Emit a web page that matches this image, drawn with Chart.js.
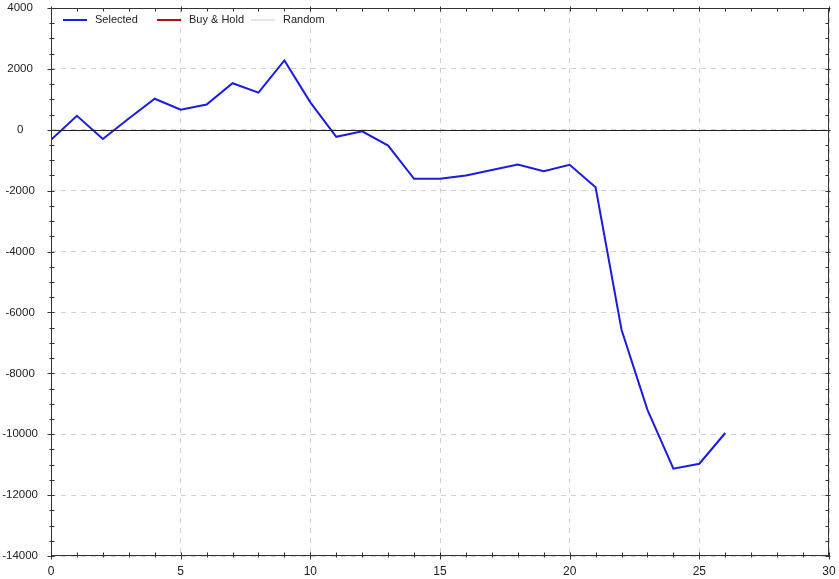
<!DOCTYPE html>
<html>
<head>
<meta charset="utf-8">
<script src="https://cdn.jsdelivr.net/npm/chart.js@4/dist/chart.umd.min.js"></script>
<style>
html,body{margin:0;padding:0;background:#fff;}
#wrap{width:839px;height:579px;position:relative;}
</style>
</head>
<body>
<div id="wrap"><canvas id="c" width="839" height="579"></canvas></div>
<script>
const periods = [0,1,2,3,4,5,6,7,8,9,10,11,12,13,14,15,16,17,18,19,20,21,22,23,24,25,26];
const selectedValues = [-330,460,-300,370,1020,660,830,1530,1220,2280,900,-230,-50,-520,-1610,-1610,-1500,-1320,-1140,-1360,-1150,-1890,-6570,-9200,-11130,-10970,-9960];
const buyHoldValues = [];
const randomValues = [];
const seriesNames = ['Selected','Buy & Hold','Random'];
const yTickValues = [4000,2000,0,-2000,-4000,-6000,-8000,-10000,-12000,-14000];
const xTickValues = [0,5,10,15,20,25,30];

const FONT = 'Liberation Sans, Arial, sans-serif';

const framePlugin = {
  id: 'frame',
  afterDatasetsDraw(chart) {
    const ctx = chart.ctx, a = chart.chartArea;
    const ys = chart.scales.y;
    ctx.save();
    const y0 = Math.round(ys.getPixelForValue(0)) + 0.5;
    ctx.strokeStyle = '#222';
    ctx.lineWidth = 1;
    ctx.beginPath(); ctx.moveTo(a.left, y0); ctx.lineTo(a.right, y0); ctx.stroke();
    ctx.restore();
  },
  afterDraw(chart) {
    const ctx = chart.ctx, a = chart.chartArea;
    const xs = chart.scales.x, ys = chart.scales.y;
    ctx.save();
    ctx.strokeStyle = '#333';
    ctx.lineWidth = 1;
    const L = Math.round(a.left) + 0.5, R = Math.round(a.right) - 0.5;
    const T = Math.round(a.top) + 0.5, B = Math.round(a.bottom) - 0.5;
    ctx.strokeRect(L, T, R - L, B - T);
    ctx.beginPath();
    for (let v = xs.min; v <= xs.max; v += 1) {
      const px = Math.round(xs.getPixelForValue(v)) + 0.5;
      const major = v % 5 === 0;
      const o = major ? 4 : 2, i = 3;
      ctx.moveTo(px, B + o); ctx.lineTo(px, B - i);
      ctx.moveTo(px, T - (major ? 2 : 0)); ctx.lineTo(px, T + i);
    }
    for (let v = ys.min; v <= ys.max; v += 500) {
      const py = Math.round(ys.getPixelForValue(v)) + 0.5;
      const major = v % 2000 === 0;
      const o = major ? 4 : 2, i = 3;
      ctx.moveTo(L - o, py); ctx.lineTo(L + i, py);
      ctx.moveTo(R + (major ? 2 : 0), py); ctx.lineTo(R - i, py);
    }
    ctx.stroke();

    ctx.font = '11px ' + FONT;
    ctx.textBaseline = 'middle';
    ctx.textAlign = 'left';
    let x = a.left + 12;
    const y = a.top + 12;
    chart.data.datasets.forEach((ds) => {
      ctx.strokeStyle = ds.borderColor;
      ctx.lineWidth = 2;
      ctx.beginPath(); ctx.moveTo(x, y); ctx.lineTo(x + 24, y); ctx.stroke();
      ctx.fillStyle = '#222';
      ctx.fillText(ds.label, x + 32, y);
      x += 94;
    });
    ctx.restore();
  }
};

new Chart(document.getElementById('c'), {
  type: 'line',
  data: {
    datasets: [
      { label: seriesNames[0], data: periods.map((p, i) => ({x: p, y: selectedValues[i]})), borderColor: '#1c1ce0', borderWidth: 2, pointRadius: 0, tension: 0, fill: false },
      { label: seriesNames[1], data: buyHoldValues, borderColor: '#b01010', borderWidth: 2, pointRadius: 0, fill: false },
      { label: seriesNames[2], data: randomValues, borderColor: '#e4e4e4', borderWidth: 2, pointRadius: 0, fill: false }
    ]
  },
  options: {
    responsive: false,
    animation: false,
    layout: { padding: { top: 8, right: 10, left: 0, bottom: 0 } },
    plugins: { legend: { display: false }, tooltip: { enabled: false } },
    scales: {
      x: {
        type: 'linear', min: 0, max: 30,
        afterBuildTicks(s) { s.ticks = xTickValues.map(v => ({value: v})); },
        afterFit(s) { s.height = 23; },
        ticks: { color: '#222', font: { family: FONT, size: 12 }, padding: 0, maxRotation: 0, callback: v => String(v) },
        grid: { color: '#d0d0d0', drawTicks: true, tickLength: 8, tickColor: 'rgba(0,0,0,0)', lineWidth: 1 },
        border: { display: false, dash: [5, 5] }
      },
      y: {
        type: 'linear', min: -14000, max: 4000,
        afterBuildTicks(s) { s.ticks = yTickValues.map(v => ({value: v})); },
        afterFit(s) { s.width = 51; },
        ticks: { color: '#222', font: { family: FONT, size: 11.5 }, padding: 0, crossAlign: 'center', callback: v => String(v) },
        grid: { color: '#d0d0d0', drawTicks: true, tickLength: 13, tickColor: 'rgba(0,0,0,0)', lineWidth: 1 },
        border: { display: false, dash: [5, 5] }
      }
    }
  },
  plugins: [framePlugin]
});
</script>
</body>
</html>
